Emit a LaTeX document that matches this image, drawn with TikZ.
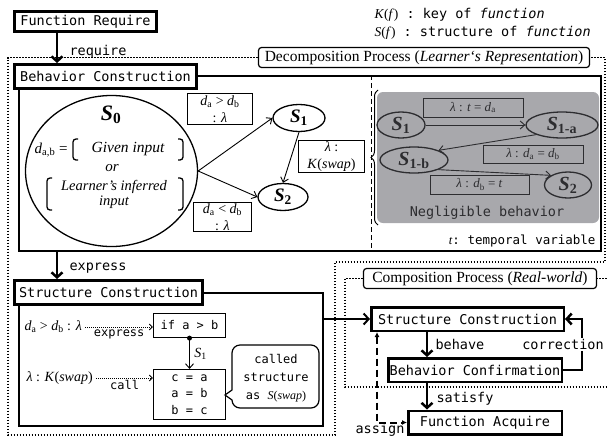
\documentclass[tikz,border=0pt]{standalone}
\usepackage{fontspec}
\setmainfont{Liberation Serif}
\setmonofont{DejaVu Sans Mono}
\usetikzlibrary{arrows.meta,shapes.geometric,decorations.pathreplacing}

\definecolor{negfill}{RGB}{168,168,172}
\definecolor{negline}{RGB}{45,45,48}

\newcommand\monoL{\ttfamily\fontsize{13.5}{16}\selectfont}
\newcommand\monoS{\ttfamily\fontsize{12}{16.5}\selectfont}
\newcommand\serifL{\rmfamily\fontsize{15.5}{18}\selectfont}
\newcommand\serifM{\rmfamily\fontsize{14}{16.5}\selectfont}
\newcommand\St[1]{\textbf{\textit{S}\textsubscript{\upshape #1}}}
\newcommand\dsb[1]{\textit{d}\textsubscript{\upshape #1}}

\begin{document}
\begin{tikzpicture}[x=1pt,y=-1pt,
  titlebox/.style={draw, line width=3, fill=white, inner sep=0, font=\monoL},
  flowbox/.style={draw, line width=2.5, fill=white, inner sep=0, font=\monoL, minimum height=23.5},
  lblbox/.style={draw, line width=0.9, fill=white, inner sep=0, align=center, font=\serifM},
  codebox/.style={draw, line width=1.2, fill=white, inner sep=0, align=center, font=\monoS},
  state/.style={draw, ellipse, line width=1.3, inner sep=0, minimum height=27, font=\rmfamily\fontsize{19}{19}\selectfont},
  gstate/.style={state, draw=negline, text=negline, minimum height=26, font=\rmfamily\fontsize{20}{20}\selectfont},
  nbox/.style={draw=negline, text=negline, line width=0.9, inner sep=0, font=\rmfamily\fontsize{13}{15}\selectfont},
  thickarrow/.style={line width=2.5, -{Straight Barb[length=5pt,width=11pt]}},
  thinarrow/.style={line width=0.9, -{Straight Barb[length=4.5pt,width=8pt]}},
  dotarrow/.style={line width=0.9, dash pattern=on 1pt off 1pt, -{Straight Barb[length=3pt,width=6pt]}},
  region/.style={line width=1.5, dash pattern=on 1.5pt off 1.5pt},
  mono/.style={font=\monoL}]
\useasboundingbox (0,0) rectangle (607,437);

% legend
\node[anchor=west, mono] (legK) at (371,15) {\textrm{\textit{K}(\textit{f})} : key of \textit{function}};
\node[anchor=west, mono] (legS) at (371,33) {\textrm{\textit{S}(\textit{f})} : structure of \textit{function}};

% process labels and their dotted regions
\node[draw, rounded corners=3, line width=1.2, fill=white, minimum width=331, minimum height=20, inner sep=0, font=\serifL] (declab) at (424,57.5) {Decomposition Process (\textit{Learner‘s Representation})};
\draw[region] (declab.west) -- (8,57.5) -- (8,435) -- (335,435) -- (335,262) -- (605,262) -- (605,57.5) -- (declab.east);
\node[draw, rounded corners=3, line width=1.2, fill=white, minimum width=233, minimum height=20, inner sep=0, font=\serifL] (comlab) at (480,278.5) {Composition Process (\textit{Real-world})};
\draw[region] (comlab.west) -- (345,278.5) -- (345,387) -- (612,387) -- (612,278.5) -- (comlab.east);

% behavior construction area
\node[draw, line width=2, minimum width=582, minimum height=175, inner sep=0] (bcarea) at (310,163.5) {};
\node[titlebox, minimum width=142, minimum height=20] (freq) at (85.5,21.5) {Function Require};
\node[titlebox, minimum width=182, minimum height=24] (bct) at (105.5,76.5) {Behavior Construction};
\coordinate (ax) at (57,0);
\draw[thickarrow] (freq.south -| ax) -- (bct.north -| ax) node[pos=0.62, right=8pt, mono] {require};

% initial state
\node[draw, ellipse, line width=1.3, minimum width=172, minimum height=151, inner sep=0] (s0) at (111.5,171) {};
\node[font=\rmfamily\fontsize{22}{22}\selectfont] (s0name) at (111,115) {\St{0}};
\node[anchor=east, font=\rmfamily\fontsize{15}{15}\selectfont] (dab) at (71,150) {\dsb{a,b} =};
\node[font=\rmfamily\itshape\fontsize{15.5}{15.5}\selectfont] (given) at (128,149) {Given input};
\node[font=\rmfamily\itshape\fontsize{15}{15}\selectfont] (or) at (112,168) {or};
\node[align=center, font=\rmfamily\itshape\fontsize{14.5}{15.5}\selectfont] (lrn) at (114,194.5) {Learner’s inferred\\input};
\begin{scope}[line width=1.3, rounded corners=3]
  \draw (78,139) -- (73,139) -- (73,160) -- (78,160);
  \draw (178,139) -- (183,139) -- (183,160) -- (178,160);
  \draw (52,178) -- (47,178) -- (47,210) -- (52,210);
  \draw (178,178) -- (183,178) -- (183,210) -- (178,210);
\end{scope}

% branch states
\node[state, minimum width=52] (s1) at (299,118) {\St{1}};
\node[state, minimum width=50] (s2) at (283,197) {\St{2}};
\draw[thinarrow] (s0.east) -- (s1.west);
\draw[thinarrow] (s0.east) -- (s2.west);
\draw[thinarrow] (s1.south) -- (s2.north);
\node[lblbox, minimum width=65, minimum height=31] (e01) at (220,109) {\dsb{a} > \dsb{b}\\: \textit{λ}};
\node[lblbox, minimum width=58, minimum height=29] (e02) at (222.5,217) {\dsb{a} < \dsb{b}\\: \textit{λ}};
\node[lblbox, minimum width=66, minimum height=32] (e12) at (331.5,156.5) {\textit{λ} :\\\textit{K}(\textit{swap})};

% separator and brace
\coordinate (dl) at (371,0);
\draw[line width=1, dash pattern=on 5pt off 3pt] (bcarea.north -| dl) -- (bcarea.south -| dl);
\draw[line width=1, decorate, decoration={brace, amplitude=7pt}] (378,225) -- (378,90);

% negligible behaviour panel
\node[fill=negfill, rounded corners=6, minimum width=222, minimum height=131, inner sep=0] (neg) at (488,157.5) {};
\node[gstate, minimum width=48] (n1) at (401,125) {\St{1}};
\node[gstate, minimum width=72] (n1a) at (562,125) {\St{1-a}};
\node[gstate, minimum width=68] (n1b) at (414,160) {\St{1-b}};
\node[gstate, minimum width=47] (n2) at (568,185) {\St{2}};
\node[nbox, minimum width=100, minimum height=19] (c1) at (473,107.5) {\textit{λ} : \textit{t} = \dsb{a}};
\node[nbox, minimum width=100, minimum height=18] (c2) at (533,154) {\textit{λ} : \dsb{a} = \dsb{b}};
\node[nbox, minimum width=99, minimum height=19] (c3) at (479.5,184.5) {\textit{λ} : \dsb{b} = \textit{t}};
\draw[thinarrow, draw=negline] (n1.east) -- (n1a.west);
\draw[thinarrow, draw=negline] (n1a.south west) -- (n1b.north east);
\draw[thinarrow, draw=negline] (n1b.south east) -- (n2.north west);
\node[mono, text=negline] (negtxt) at (487,213) {Negligible behavior};
\node[anchor=east, font=\ttfamily\fontsize{12.5}{14}\selectfont] (tvar) at (599,241) {\textrm{\textit{t}}: temporal variable};

% structure construction area
\node[draw, line width=2, minimum width=304, minimum height=133, inner sep=0] (scarea) at (171,359.5) {};
\node[titlebox, minimum width=188, minimum height=24] (sct) at (108.5,292.5) {Structure Construction};
\draw[thickarrow] (bcarea.south -| ax) -- (sct.north -| ax) node[pos=0.59, right=8pt, mono] {express};

\node[anchor=west, font=\serifM] (cond) at (21,327) {\dsb{a} > \dsb{b} : \textit{λ}};
\node[codebox, minimum width=72, minimum height=24] (ifb) at (189.5,325.5) {if a > b};
\draw[dotarrow] (cond.east) -- (cond -| ifb.west) node[midway, below=-1pt, font=\monoS] {express};
\node[anchor=west, font=\serifM] (callk) at (23,378) {\textit{λ} : \textit{K}(\textit{swap})};
\node[codebox, minimum width=72, minimum height=50] (code) at (189.5,394.5) {c = a\\a = b\\b = c};
\draw[dotarrow] (callk.east) -- (callk -| code.west) node[midway, below=-1pt, font=\monoS] {call};
\fill (ifb.south) circle (2.5);
\draw[thinarrow] (ifb.south) -- (code.north) node[midway, right=1pt, font=\serifM] {\textit{S}\textsubscript{1}};

\draw[line width=1.2, fill=white] (232,390) [rounded corners=8] -- (232,345) -- (319,345) -- (319,408) -- (232,408) [sharp corners] -- (232,400) -- (225,395) -- cycle;
\node[align=center, font=\ttfamily\fontsize{12}{18}\selectfont] (calltxt) at (276,378) {called\\structure\\as \textrm{\textit{S}(\textit{swap})}};

% real-world composition flow
\node[flowbox, minimum width=192.5] (rsc) at (467.5,319) {Structure Construction};
\node[flowbox, minimum width=173.5] (rbc) at (475,370) {Behavior Confirmation};
\node[flowbox, minimum width=153.5] (rfa) at (485,422.5) {Function Acquire};
\draw[thickarrow, line width=2] (scarea.east |- rsc.west) -- (rsc.west);
\coordinate (fx) at (427,0);
\draw[thickarrow] (rsc.south -| fx) -- (rbc.north -| fx) node[midway, right=4pt, mono] {behave};
\draw[thickarrow] (rbc.south -| fx) -- (rfa.north -| fx) node[pos=0.6, right=5pt, mono] {satisfy};
\draw[thickarrow] (rbc.east) -- ++(19,0) |- (rsc.east) node[pos=0.25, xshift=-19, fill=white, inner sep=1, mono] {correction};
\coordinate (asx) at (377,0);
\draw[line width=2, dash pattern=on 7pt off 4pt, {Latex[length=5pt,width=5pt]}-{Latex[length=5pt,width=5pt]}] (rsc.south -| asx) |- (rfa.west) node[pos=0.5, anchor=base, xshift=3, yshift=-10.5, mono] {assign};
\end{tikzpicture}
\end{document}
